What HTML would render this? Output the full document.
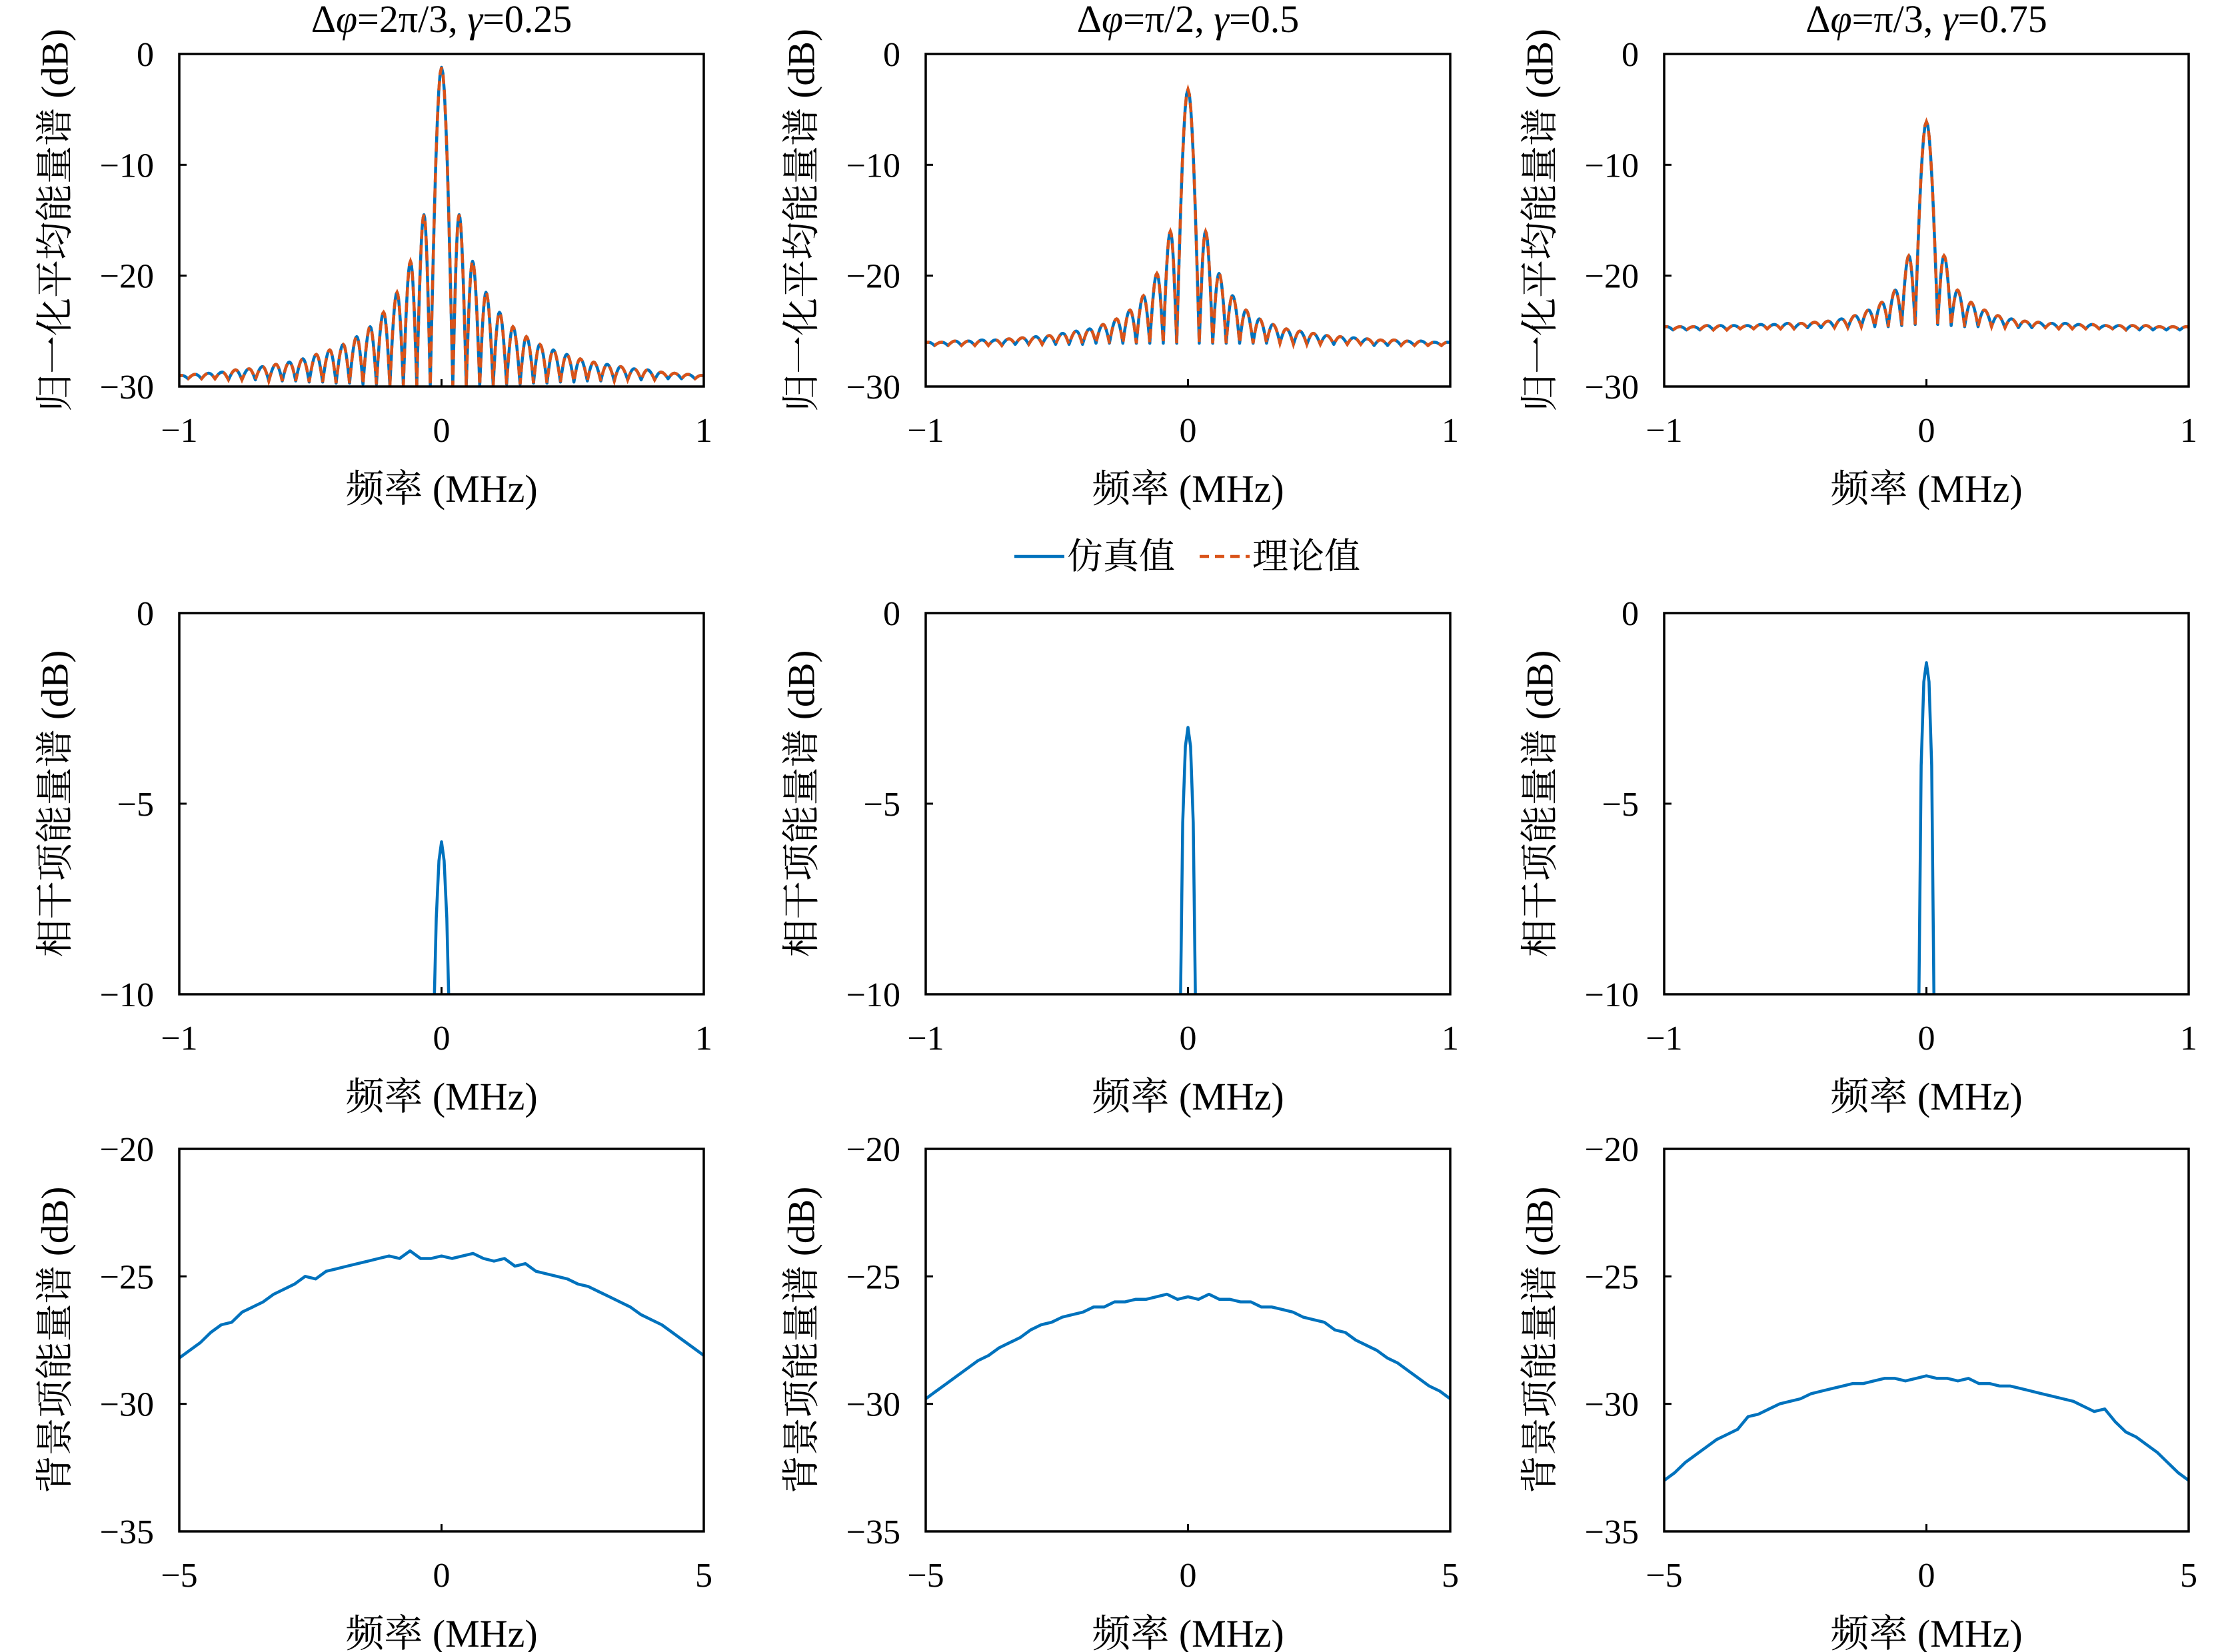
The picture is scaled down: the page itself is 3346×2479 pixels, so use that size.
<!DOCTYPE html>
<html><head><meta charset="utf-8"><style>
html,body{margin:0;padding:0;background:#fff;}
svg{display:block;}
text{font-family:"Liberation Serif","Noto Serif CJK SC",serif;fill:#000;}
</style></head><body>
<svg id="fig" width="3346" height="2479" viewBox="0 0 3346 2479" xmlns="http://www.w3.org/2000/svg">
<g id="legend">
<line x1="1522" y1="835" x2="1597" y2="835" stroke="#0072BD" stroke-width="4.5"/>
<text x="1601" y="853" font-size="54">仿真值</text>
<line x1="1800" y1="835" x2="1875" y2="835" stroke="#D95319" stroke-width="4.5" stroke-dasharray="14,9"/>
<text x="1879" y="853" font-size="54">理论值</text>
</g>
</svg>
<script>
// ---- data: top row (normalized average spectrum) ----
const lobeSpacing = 0.0513;
const firstNull = 0.043;
const firstSide = 0.067;
const mainPeak = [-1.2, -3.2, -6.1];
const side1 = [-14.5,-18.7,-21.5,-23.3,-24.6,-25.5,-26.2,-26.7,-27.1,-27.5,-27.8,-28.0,-28.2,-28.4,-28.5,-28.7,-28.8,-28.9,-29.0];
const null1 = [-29.9,-29.9,-29.9,-29.9,-29.8,-29.8,-29.7,-29.7,-29.6,-29.6,-29.5,-29.5,-29.5,-29.4,-29.4,-29.4,-29.3,-29.3,-29.3,-29.3];
const side2 = [-16.0,-19.8,-21.8,-23.1,-23.9,-24.4,-24.8,-25.0,-25.2,-25.4,-25.5,-25.6,-25.7,-25.8,-25.8,-25.9,-25.9,-26.0,-26.0];
const null2 = [-26.1,-26.1,-26.1,-26.1,-26.1,-26.1,-26.1,-26.2,-26.2,-26.2,-26.2,-26.2,-26.2,-26.3,-26.3,-26.3,-26.3,-26.3,-26.3,-26.3];
const side3 = [-18.2,-21.3,-22.4,-23.1,-23.6,-23.9,-24.1,-24.2,-24.3,-24.3,-24.4,-24.4,-24.5,-24.5,-24.5,-24.5,-24.6,-24.6,-24.6];
const null3 = [-24.4,-24.5,-24.6,-24.6,-24.6,-24.7,-24.7,-24.7,-24.7,-24.8,-24.8,-24.8,-24.8,-24.8,-24.9,-24.9,-24.9,-24.9,-24.9,-24.9];
// ---- data: middle row (coherent term) ----
const cohFreq = [-0.03,-0.02,-0.01,0,0.01,0.02,0.03];
const coh1 = [-10.8,-8.0,-6.5,-6.0,-6.5,-8.0,-10.8];
const coh2 = [-11.0,-5.5,-3.5,-3.0,-3.5,-5.5,-11.0];
const coh3 = [-11.0,-4.0,-1.8,-1.3,-1.8,-4.0,-11.0];
// ---- data: bottom row (background term) ----
const bgFreqStart = -5, bgFreqStep = 0.2;
const bg1 = [-28.2,-27.9,-27.6,-27.2,-26.9,-26.8,-26.4,-26.2,-26.0,-25.7,-25.5,-25.3,-25.0,-25.1,-24.8,-24.7,-24.6,-24.5,-24.4,-24.3,-24.2,-24.3,-24.0,-24.3,-24.3,-24.2,-24.3,-24.2,-24.1,-24.3,-24.4,-24.3,-24.6,-24.5,-24.8,-24.9,-25.0,-25.1,-25.3,-25.4,-25.6,-25.8,-26.0,-26.2,-26.5,-26.7,-26.9,-27.2,-27.5,-27.8,-28.1];
const bg2 = [-29.8,-29.5,-29.2,-28.9,-28.6,-28.3,-28.1,-27.8,-27.6,-27.4,-27.1,-26.9,-26.8,-26.6,-26.5,-26.4,-26.2,-26.2,-26.0,-26.0,-25.9,-25.9,-25.8,-25.7,-25.9,-25.8,-25.9,-25.7,-25.9,-25.9,-26.0,-26.0,-26.2,-26.2,-26.3,-26.4,-26.6,-26.7,-26.8,-27.1,-27.2,-27.5,-27.7,-27.9,-28.2,-28.4,-28.7,-29.0,-29.3,-29.5,-29.8];
const bg3 = [-33.0,-32.7,-32.3,-32.0,-31.7,-31.4,-31.2,-31.0,-30.5,-30.4,-30.2,-30.0,-29.9,-29.8,-29.6,-29.5,-29.4,-29.3,-29.2,-29.2,-29.1,-29.0,-29.0,-29.1,-29.0,-28.9,-29.0,-29.0,-29.1,-29.0,-29.2,-29.2,-29.3,-29.3,-29.4,-29.5,-29.6,-29.7,-29.8,-29.9,-30.1,-30.3,-30.2,-30.7,-31.1,-31.3,-31.6,-31.9,-32.3,-32.7,-33.0];

const titles = ['Δ<tspan font-style="italic">φ</tspan>=2π/3, <tspan font-style="italic">γ</tspan>=0.25','Δ<tspan font-style="italic">φ</tspan>=π/2, <tspan font-style="italic">γ</tspan>=0.5','Δ<tspan font-style="italic">φ</tspan>=π/3, <tspan font-style="italic">γ</tspan>=0.75'];
const rowYLabels = ['归一化平均能量谱 (dB)','相干项能量谱 (dB)','背景项能量谱 (dB)'];
const rowYTicks = [[0,-10,-20,-30],[0,-5,-10],[-20,-25,-30,-35]];
const rowXTicks = [[-1,0,1],[-1,0,1],[-5,0,5]];
const rowYRange = [[-30,0],[-10,0],[-35,-20]];
const rowXRange = [[-1,1],[-1,1],[-5,5]];

const NS='http://www.w3.org/2000/svg';
const svg=document.getElementById('fig');
const colL=[269,1389,2497], W=787;
const rowT=[81,920,1724], rowB=[580,1492,2298];
const BLUE='#0072BD', ORANGE='#D95319';
function mk(tag,attrs,parent){const e=document.createElementNS(NS,tag);for(const k in attrs)e.setAttribute(k,attrs[k]);(parent||svg).appendChild(e);return e;}
function fmt(v){return v<0?'−'+Math.abs(v):String(v);}

for(let r=0;r<3;r++){
  for(let c=0;c<3;c++){
    const L=colL[c],R=L+W,T=rowT[r],B=rowB[r];
    const xr=rowXRange[r], yr=rowYRange[r];
    const sx=v=>L+(v-xr[0])/(xr[1]-xr[0])*W;
    const sy=v=>B-(v-yr[0])/(yr[1]-yr[0])*(B-T);
    const g=mk('g',{});
    
    
    const cid='clip'+r+c;
    const cp=mk('clipPath',{id:cid},g); mk('rect',{x:L,y:T,width:W,height:B-T},cp);
    rowYTicks[r].forEach(t=>{
      const y=sy(t);
      const tl=mk('line',{x1:L,y1:y,x2:L+11,y2:y,stroke:'#000','stroke-width':3},g);
      
      
      const tx=mk('text',{x:L-38,y:y+18,'font-size':52,'text-anchor':'end'},g);
      
      
      tx.textContent=fmt(t);
    });
    rowXTicks[r].forEach(t=>{
      const x=sx(t);
      const tl=mk('line',{x1:x,y1:B,x2:x,y2:B-11,stroke:'#000','stroke-width':3},g);
      
      
      const tx=mk('text',{x:x,y:B+83,'font-size':52,'text-anchor':'middle'},g);
      
      
      tx.textContent=fmt(t);
    });
    const xl=mk('text',{x:L+W/2,y:B+173,'font-size':58,'text-anchor':'middle'},g);
    
    
    xl.textContent='频率 (MHz)';
    const yc=(T+B)/2, yx=L-186;
    const yl=mk('text',{x:yx,y:yc,'font-size':57,'text-anchor':'middle','dominant-baseline':'central',transform:'rotate(-90 '+yx+' '+yc+')'},g);
    
    
    yl.textContent=rowYLabels[r];
    if(r===0){
      const tt=mk('text',{x:L+W/2,y:48,'font-size':58,'text-anchor':'middle'},g);
      
      
      tt.innerHTML=titles[c];
    }
    let pts=[];
    if(r===0){
      const side=[side1,side2,side3][c], nul=[null1,null2,null3][c];
      const right=[];
      for(let k=0;k<nul.length;k++){
        right.push([firstNull+k*lobeSpacing,nul[k]]);
        if(k<side.length) right.push([firstSide+k*lobeSpacing,side[k]]);
      }
      for(let i=right.length-1;i>=0;i--) pts.push([-right[i][0],right[i][1]]);
      pts.push([0,mainPeak[c]]);
      right.forEach(p=>pts.push(p));
    } else if(r===1){
      const v=[coh1,coh2,coh3][c];
      cohFreq.forEach((f,i)=>pts.push([f,v[i]]));
    } else {
      const v=[bg1,bg2,bg3][c];
      v.forEach((y,i)=>pts.push([bgFreqStart+i*bgFreqStep,y]));
    }
    // rendering: round lobe tops (null -> peak easing) for top row
    let dpts=[];
    if(r===0){
      for(let i=0;i<pts.length-1;i++){
        const a=pts[i],b=pts[i+1];
        const rising=b[1]>a[1];
        for(let s=0;s<8;s++){
          const t=s/8;
          const e=rising?Math.sin(t*Math.PI/2):1-Math.cos(t*Math.PI/2);
          dpts.push([a[0]+(b[0]-a[0])*t,a[1]+(b[1]-a[1])*e]);
        }
      }
      dpts.push(pts[pts.length-1]);
    } else dpts=pts;
    const d=dpts.map((p,i)=>(i?'L':'M')+sx(p[0]).toFixed(1)+' '+sy(p[1]).toFixed(1)).join(' ');
    const s1=mk('path',{d:d,fill:'none',stroke:BLUE,'stroke-width':4.5,'stroke-linejoin':'round','clip-path':'url(#'+cid+')'},g);
    
    
    if(r===0){
      const s2=mk('path',{d:d,fill:'none',stroke:ORANGE,'stroke-width':4.5,'stroke-dasharray':'14,9','clip-path':'url(#'+cid+')'},g);
      
      
    }
    const box=mk('rect',{x:L,y:T,width:W,height:B-T,fill:'none',stroke:'#000','stroke-width':3.5},g);
    
    
  }
}
</script>
</body></html>
